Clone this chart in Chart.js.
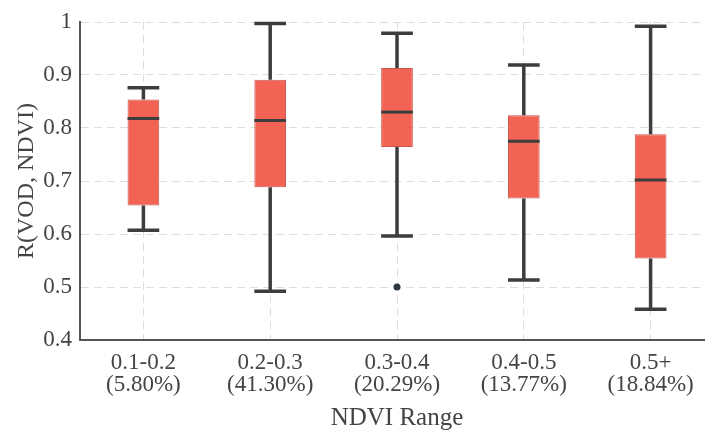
<!DOCTYPE html>
<html>
<head>
<meta charset="utf-8">
<script src="https://cdn.jsdelivr.net/npm/chart.js@4/dist/chart.umd.min.js"></script>
<style>
  html, body { margin: 0; padding: 0; background: #fff; overflow: hidden; }
  /* a área do gráfico passa um pouco da borda direita, como no original */
  #wrap { width: 718px; height: 433px; }
</style>
</head>
<body>
<div id="wrap"><canvas id="boxChart"></canvas></div>
<script>
// Categorias (faixas de NDVI) e percentagens
const rangeLabels = ["0.1-0.2", "0.2-0.3", "0.3-0.4", "0.4-0.5", "0.5+"];
const rangeShares = ["(5.80%)", "(41.30%)", "(20.29%)", "(13.77%)", "(18.84%)"];

// Estatísticas do box plot
const whiskerLow = [0.607, 0.492, 0.596, 0.513, 0.458];
const q1 = [0.654, 0.688, 0.764, 0.667, 0.554];
const median = [0.818, 0.814, 0.830, 0.775, 0.702];
const q3 = [0.854, 0.891, 0.913, 0.824, 0.788];
const whiskerHigh = [0.876, 0.997, 0.979, 0.919, 0.992];
const outliers = [null, null, 0.500, null, null];

const yTicks = [0.4, 0.5, 0.6, 0.7, 0.8, 0.9, 1];

const textColor = "#444";
const lineColor = "#3d3d3d";
const serif = "'Liberation Serif', 'DejaVu Serif', serif";

// Plugin para desenhar bigodes e medianas com as escalas do gráfico
const whiskerPlugin = {
  id: "whiskers",
  afterDatasetsDraw(chart) {
    const meta = chart.getDatasetMeta(0);
    const y = chart.scales.y;
    const c = chart.ctx;
    c.save();
    c.strokeStyle = lineColor;
    c.lineCap = "butt";
    meta.data.forEach((bar, i) => {
      const x = bar.x;
      const half = bar.width / 2;
      const yMin = y.getPixelForValue(whiskerLow[i]);
      const yQ1 = y.getPixelForValue(q1[i]);
      const yMed = y.getPixelForValue(median[i]);
      const yQ3 = y.getPixelForValue(q3[i]);
      const yMax = y.getPixelForValue(whiskerHigh[i]);
      // bigodes
      c.lineWidth = 3.5;
      c.beginPath();
      c.moveTo(x, yQ3); c.lineTo(x, yMax);
      c.moveTo(x, yQ1); c.lineTo(x, yMin);
      c.moveTo(x - half, yMax); c.lineTo(x + half, yMax);
      c.moveTo(x - half, yMin); c.lineTo(x + half, yMin);
      c.stroke();
      // mediana
      c.lineWidth = 3;
      c.beginPath();
      c.moveTo(x - half, yMed); c.lineTo(x + half, yMed);
      c.stroke();
    });
    c.restore();
  }
};

const ctx = document.getElementById("boxChart").getContext("2d");
new Chart(ctx, {
  type: "bar",
  data: {
    labels: rangeLabels.map((l, i) => [l, rangeShares[i]]),
    datasets: [
      {
        label: "IQR",
        data: rangeLabels.map((_, i) => [q1[i], q3[i]]),
        backgroundColor: "#f26354",
        borderColor: "#c4584d",
        borderWidth: 1,
        borderSkipped: false,
        barPercentage: 0.25,
        categoryPercentage: 1,
        order: 2
      },
      {
        type: "line",
        label: "Outliers",
        data: outliers,
        showLine: false,
        pointRadius: 3.5,
        pointBackgroundColor: "#2d3640",
        pointBorderWidth: 0,
        order: 1
      }
    ]
  },
  options: {
    responsive: true,
    maintainAspectRatio: false,
    animation: false,
    layout: { padding: { top: 22, right: 0, bottom: 0, left: 0 } },
    plugins: {
      legend: { display: false },
      tooltip: { enabled: false }
    },
    scales: {
      x: {
        offset: true,
        afterFit: (s) => { s.height = 93; },
        grid: {
          offset: false,
          drawTicks: false,
          color: "#dddddd",
          lineWidth: 1
        },
        border: { color: "#555", width: 2, dash: [8, 5] },
        ticks: {
          color: textColor,
          padding: 12,
          font: { family: serif, size: 23, lineHeight: 0.96 },
          maxRotation: 0
        },
        title: {
          display: true,
          text: "NDVI Range",
          color: textColor,
          font: { family: serif, size: 25 },
          padding: { top: 0, bottom: 0 }
        }
      },
      y: {
        min: 0.4,
        max: 1,
        afterFit: (s) => { s.width = 80; },
        afterBuildTicks: (s) => { s.ticks = yTicks.map(v => ({ value: v })); },
        grid: {
          drawTicks: false,
          color: "#dddddd",
          lineWidth: 1
        },
        border: { color: "#555", width: 2, dash: [8, 5] },
        ticks: {
          color: textColor,
          padding: 8,
          font: { family: serif, size: 23 },
          callback: (v) => String(Math.round(v * 10) / 10)
        },
        title: {
          display: true,
          text: "R(VOD, NDVI)",
          color: textColor,
          font: { family: serif, size: 24 },
          padding: { top: 12, bottom: 0 }
        }
      }
    }
  },
  plugins: [whiskerPlugin]
});
</script>
</body>
</html>
